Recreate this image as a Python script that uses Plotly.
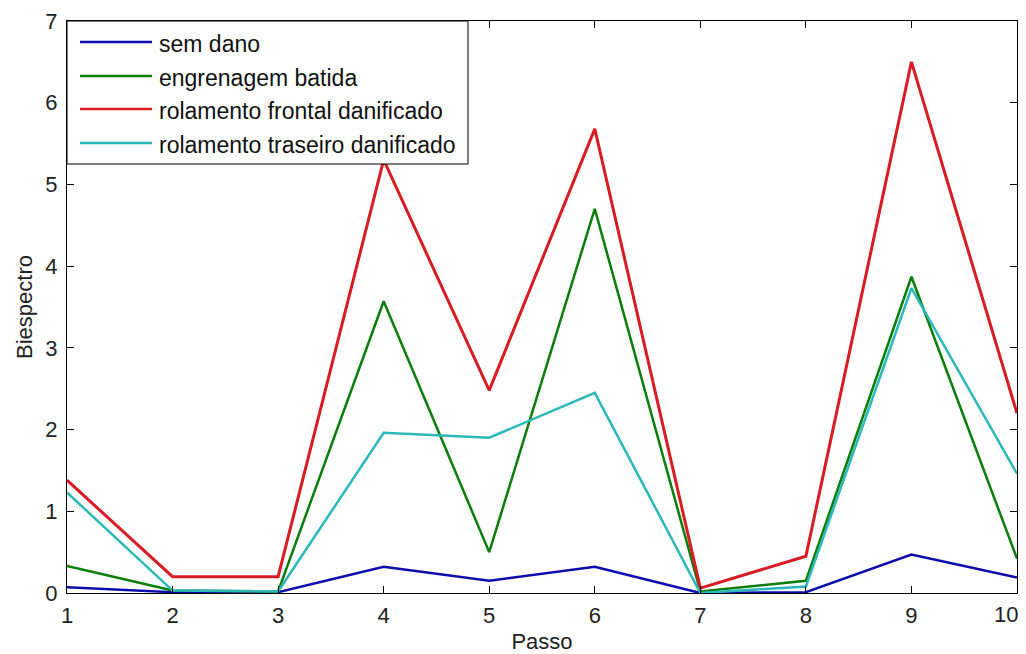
import plotly.graph_objects as go

passo = [1, 2, 3, 4, 5, 6, 7, 8, 9, 10]
sem_dano = [0.07, 0.01, 0.01, 0.32, 0.15, 0.32, 0.0, 0.01, 0.47, 0.19]
engrenagem_batida = [0.33, 0.03, 0.02, 3.57, 0.5, 4.7, 0.02, 0.15, 3.87, 0.42]
rol_frontal = [1.38, 0.2, 0.2, 5.3, 2.48, 5.68, 0.06, 0.45, 6.5, 2.2]
rol_traseiro = [1.23, 0.03, 0.02, 1.96, 1.9, 2.45, 0.0, 0.08, 3.73, 1.46]
x_tick_labels = ["1", "2", "3", "4", "5", "6", "7", "8", "9", "10"]
y_ticks = [0, 1, 2, 3, 4, 5, 6, 7]

names = ["sem dano", "engrenagem batida", "rolamento frontal danificado",
         "rolamento traseiro danificado"]
series = [sem_dano, engrenagem_batida, rol_frontal, rol_traseiro]
colors = ["#0c0cae", "#0a7d0a", "#d81c24", "#2ab8b8"]
widths = [2.5, 2.5, 3, 2.5]

W, H = 1026, 654
L, R, T, B = 67, 1017, 21, 593

fig = go.Figure()
for n, s, c, w in zip(names, series, colors, widths):
    fig.add_trace(go.Scatter(x=passo, y=s, mode="lines", name=n,
                             line=dict(color=c, width=w), showlegend=False))

def px(x):
    return (x - L) / (R - L)

def py(y):
    return (B - y) / (B - T)

shapes = [dict(type="rect", xref="paper", yref="paper",
               x0=px(67), x1=px(468), y0=py(164), y1=py(21),
               line=dict(color="black", width=1), fillcolor="white", layer="above")]
annotations = []
ys = [42, 76, 109, 143]
for n, c, yy in zip(names, colors, ys):
    shapes.append(dict(type="line", xref="paper", yref="paper",
                       x0=px(80), x1=px(152), y0=py(yy), y1=py(yy),
                       line=dict(color=c, width=2.5), layer="above"))
    annotations.append(dict(xref="paper", yref="paper", x=px(157), y=py(yy + 2),
                            text=n, showarrow=False, xanchor="left", yanchor="middle",
                            font=dict(family="Arial", size=23, color="#111")))

# the last x tick label is right-aligned at the edge (as in the reference)
shown_labels = x_tick_labels[:-1] + [""]
annotations.append(dict(xref="x", yref="paper", x=passo[-1], y=0, yanchor="top",
                        xanchor="right", xshift=3, yshift=-7, showarrow=False,
                        text=x_tick_labels[-1],
                        font=dict(family="Arial", size=22, color="#222")))

fig.update_layout(
    width=W, height=H,
    margin=dict(l=L, r=W - R, t=T, b=H - B),
    paper_bgcolor="white", plot_bgcolor="white",
    shapes=shapes, annotations=annotations,
    font=dict(family="Arial", size=22, color="#222"),
    xaxis=dict(range=[1, 10], tickvals=passo, ticktext=shown_labels,
               ticks="inside", ticklen=7,
               showgrid=False, zeroline=False, showline=True, linecolor="black",
               linewidth=1, mirror="ticks", tickcolor="black", automargin=False,
               ticklabelstandoff=3,
               tickfont=dict(size=22),
               title=dict(text="Passo", standoff=6, font=dict(size=22))),
    yaxis=dict(range=[0, 7], tickvals=y_ticks, ticks="inside",
               ticklen=7, showgrid=False, zeroline=False, showline=True,
               linecolor="black", linewidth=1, mirror="ticks", tickcolor="black",
               automargin=False,
               ticklabeloverflow="allow", ticklabelstandoff=4,
               tickfont=dict(size=22),
               title=dict(text="Biespectro", standoff=6, font=dict(size=22))),
)

fig.write_html("out.html")
